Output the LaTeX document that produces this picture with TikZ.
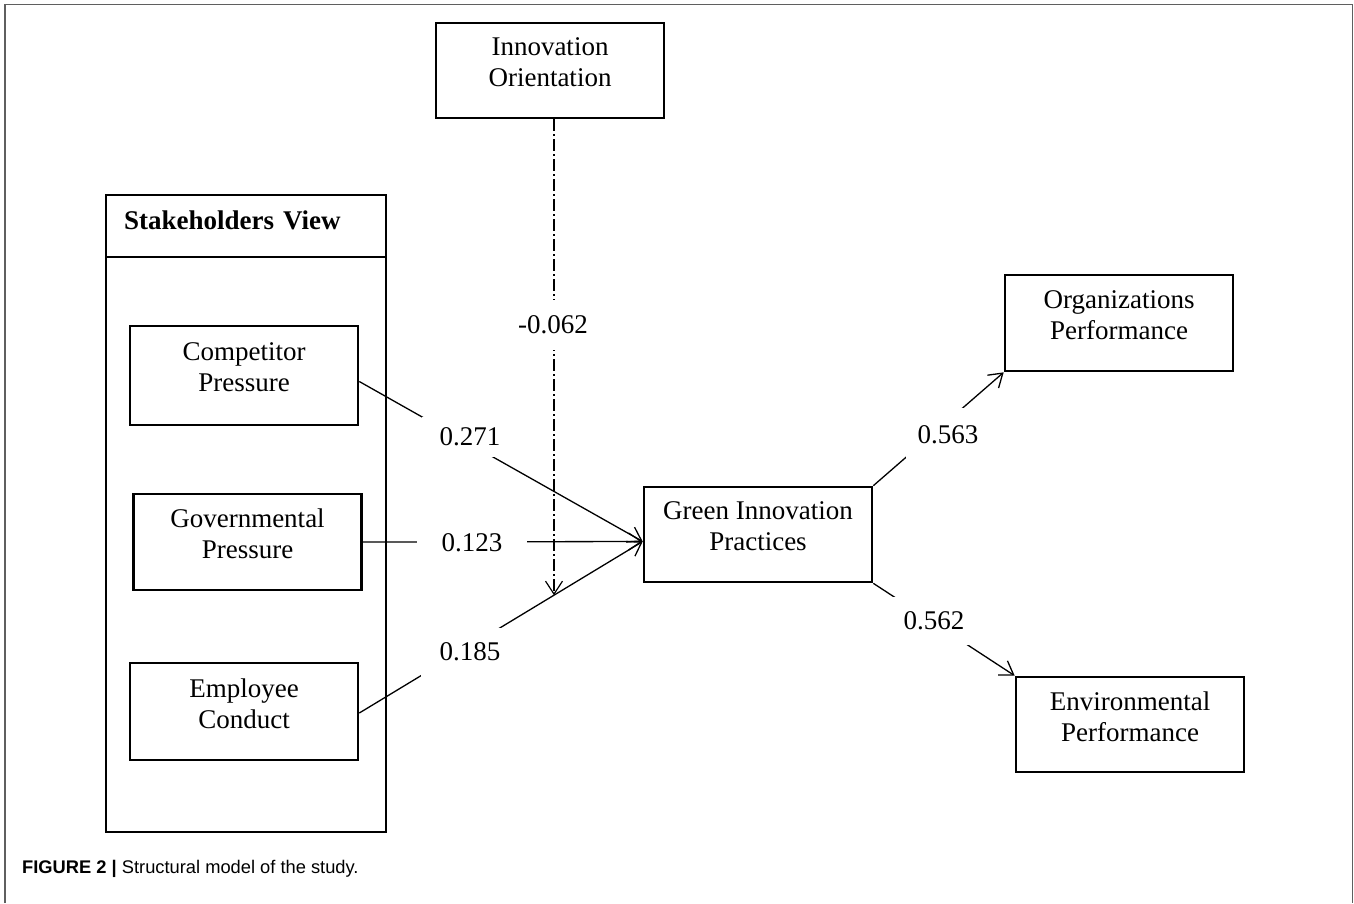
\documentclass[tikz,border=0pt]{standalone}
\usepackage{fontspec}
\setmainfont{Liberation Serif}
\setsansfont{Liberation Sans}
\usetikzlibrary{arrows.meta,calc}
\definecolor{framegray}{RGB}{95,95,95}
\begin{document}
\begin{tikzpicture}[x=1pt,y=-1pt,
  box/.style={draw, line width=2.6pt, minimum width=228pt, align=center,
    font=\fontsize{27}{31}\selectfont, text depth=16pt, inner sep=0pt},
  conn/.style={line width=1.3pt, -{Straight Barb[length=13pt,width=17pt]}},
  lbl/.style={fill=white, font=\fontsize{27}{31}\selectfont, inner sep=0pt},
]
\useasboundingbox (0,0) rectangle (1354,903);
\draw[line width=1.6pt, framegray] (5,903) -- (5,4.5) -- (1352.5,4.5) -- (1352.5,903);

% boxes
\node[box, minimum height=95pt] (io) at (550,70.5) {Innovation\\Orientation};
\node[draw, line width=2.6pt, minimum width=280pt, minimum height=637pt, inner sep=0pt] (sv) at (246,513.5) {};
\node[draw, line width=2.6pt, minimum width=280pt, minimum height=62pt, anchor=north,
  font=\bfseries\fontsize{27}{31}\selectfont, text width=244pt, align=left,
  text height=18pt, text depth=11pt, inner sep=0pt] (svh) at (sv.north) {Stakeholders View};
\node[box, minimum height=99pt] (cp) at (244,375.5) {Competitor\\Pressure};
\node[box, minimum height=96pt] (gp) at (247.5,542) {Governmental\\Pressure};
\node[box, minimum height=97pt] (ec) at (244,711.5) {Employee\\Conduct};
\node[box, minimum height=95pt] (gip) at (758,534.5) {Green Innovation\\Practices};
\node[box, minimum height=96pt] (op) at (1119,323) {Organizations\\Performance};
\node[box, minimum height=95pt] (ep) at (1130,724.5) {Environmental\\Performance};

% connectors
\coordinate (gin) at ([yshift=-7pt]gip.west);
\coordinate (cpo) at ([yshift=-6pt]cp.east);
\coordinate (eco) at ([yshift=-1.5pt]ec.east);
\draw[conn] (cpo) -- (gin);
\draw[conn] (gp.east) -- (gin);
\draw[conn] (eco) -- (gin);
\coordinate (tip) at ($(eco)!0.687!(gin)$);
\draw[line width=1.2pt, dash pattern=on 12pt off 3pt on 2pt off 3pt,
  -{Straight Barb[length=13pt,width=17pt]}] (io.south -| tip) -- (tip);
\draw[conn] (gip.north east) -- (op.south west);
\draw[conn] (gip.south east) -- (ep.north west);

% labels
\node[lbl, minimum width=96pt, minimum height=40pt] (l1) at (470,437) {0.271};
\node[lbl, minimum width=110pt, minimum height=30pt] (l2) at (472,543) {0.123};
\node[lbl, minimum width=98pt, minimum height=49pt] (l3) at (470,652) {0.185};
\node[lbl, minimum width=76pt, minimum height=50pt] (l4) at (553,325) {-0.062};
\node[lbl, minimum width=84pt, minimum height=54pt] (l5) at (948,435) {0.563};
\node[lbl, minimum width=82pt, minimum height=48pt] (l6) at (934,621) {0.562};

% caption
\node[anchor=base west, inner sep=0pt, font=\sffamily\fontsize{18.3}{22}\selectfont] (cap)
  at (22,873) {\textbf{FIGURE 2 |} Structural model of the study.};
\end{tikzpicture}
\end{document}
